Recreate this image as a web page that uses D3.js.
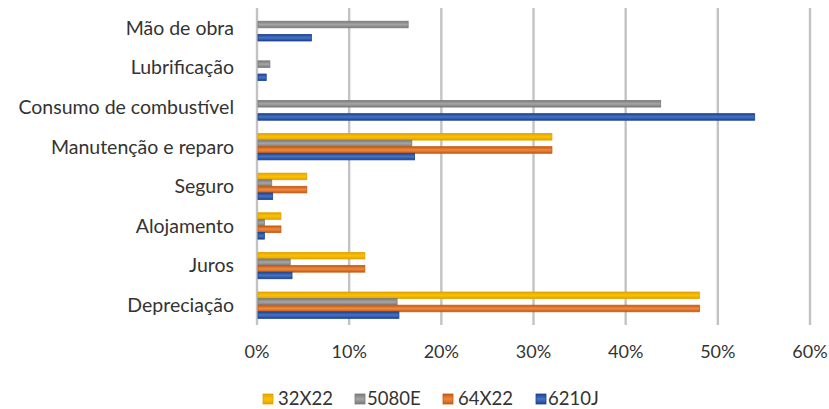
<!DOCTYPE html>
<html>
<head>
<meta charset="utf-8">
<style>
  body { margin: 0; background: #fff; }
  svg text { font-family: "Lato", "Noto Sans", sans-serif; fill: #333; }
</style>
</head>
<body>
<svg width="829" height="409"></svg>
<script src="https://cdn.jsdelivr.net/npm/d3@7"></script>
<script>
// cost categories, top to bottom
var categories = ["Mão de obra", "Lubrificação", "Consumo de combustível", "Manutenção e reparo",
                  "Seguro", "Alojamento", "Juros", "Depreciação"];
var seriesNames = ["32X22", "5080E", "64X22", "6210J"];

// shares in %, one array per machine, same order as categories
var s32X22 = [0, 0, 0, 32.0, 5.4, 2.6, 11.7, 48.0];
var s5080E = [16.4, 1.4, 43.8, 16.8, 1.6, 0.8, 3.6, 15.2];
var s64X22 = [0, 0, 0, 32.0, 5.4, 2.6, 11.7, 48.0];
var s6210J = [5.9, 1.0, 54.0, 17.1, 1.7, 0.8, 3.8, 15.4];
var xTicks = [0, 10, 20, 30, 40, 50, 60];

var seriesValues = [s32X22, s5080E, s64X22, s6210J];
var fills = [
  {mid: "#ffc000", edge: "#e0a400"},
  {mid: "#a5a5a5", edge: "#7a7a7a"},
  {mid: "#f08a40", edge: "#c55a11"},
  {mid: "#4474c6", edge: "#1f4391"}
];

var svg = d3.select("svg"),
    margin = {top: 8, right: 19, bottom: 84, left: 257},
    width = +svg.attr("width") - margin.left - margin.right,
    height = +svg.attr("height") - margin.top - margin.bottom;

var defs = svg.append("defs");
fills.forEach(function(f, i) {
  var gr = defs.append("linearGradient").attr("id", "gr" + i)
      .attr("x1", 0).attr("y1", 0).attr("x2", 0).attr("y2", 1);
  gr.append("stop").attr("offset", "0%").attr("stop-color", f.edge);
  gr.append("stop").attr("offset", "50%").attr("stop-color", f.mid);
  gr.append("stop").attr("offset", "100%").attr("stop-color", f.edge);
});

var g = svg.append("g").attr("transform", "translate(" + margin.left + "," + margin.top + ")");

var x = d3.scaleLinear().domain([0, 60]).range([0, width]);
var y0 = d3.scaleBand().domain(categories).range([0, height])
    .paddingInner(0.335).paddingOuter(0.1675);
var y1 = d3.scaleBand().domain(seriesNames).range([0, y0.bandwidth()]);

// gridlines
g.append("g").selectAll("line").data(xTicks).enter().append("line")
    .attr("x1", function(d) { return x(d); })
    .attr("x2", function(d) { return x(d); })
    .attr("y1", 0).attr("y2", height)
    .attr("stroke", "#c3c3c3").attr("stroke-width", 2.4);

// bars
var rows = [];
categories.forEach(function(c, i) {
  seriesNames.forEach(function(s, j) {
    rows.push({cat: c, series: s, j: j, value: seriesValues[j][i]});
  });
});

g.append("g").selectAll("rect").data(rows.filter(function(d) { return d.value > 0; }))
  .enter().append("rect")
    .attr("x", x(0) + 1)
    .attr("y", function(d) { return y0(d.cat) + y1(d.series); })
    .attr("width", function(d) { return x(d.value) - x(0) - 1; })
    .attr("height", y1.bandwidth())
    .attr("fill", function(d) { return "url(#gr" + d.j + ")"; })
    .attr("stroke", function(d) { return fills[d.j].edge; })
    .attr("stroke-width", 0.8);

// category labels
g.append("g").selectAll("text").data(categories).enter().append("text")
    .attr("x", -23)
    .attr("y", function(d) { return y0(d) + y0.bandwidth() / 2; })
    .attr("dy", "0.35em")
    .attr("text-anchor", "end")
    .style("font-size", "19.5px")
    .text(function(d) { return d; });

// x tick labels
g.append("g").selectAll("text").data(xTicks).enter().append("text")
    .attr("x", function(d) { return x(d); })
    .attr("y", height + 27)
    .attr("dy", "0.35em")
    .attr("text-anchor", "middle")
    .style("font-size", "18px")
    .text(function(d) { return d + "%"; });

// legend
var legendX = [263, 355, 443, 536];
var legendTextX = [278, 367, 458, 548];
var legend = svg.append("g").selectAll("g").data(seriesNames).enter().append("g")
    .attr("transform", function(d, i) { return "translate(" + legendX[i] + ",399)"; });
legend.append("rect")
    .attr("x", 0).attr("y", -5).attr("width", 10).attr("height", 10)
    .attr("fill", function(d, i) { return "url(#gr" + i + ")"; })
    .attr("stroke", function(d, i) { return fills[i].edge; })
    .attr("stroke-width", 0.8);
legend.append("text")
    .attr("x", function(d, i) { return legendTextX[i] - legendX[i]; })
    .attr("y", 0).attr("dy", "0.35em")
    .style("font-size", "18.5px")
    .text(function(d) { return d; });
</script>
</body>
</html>
